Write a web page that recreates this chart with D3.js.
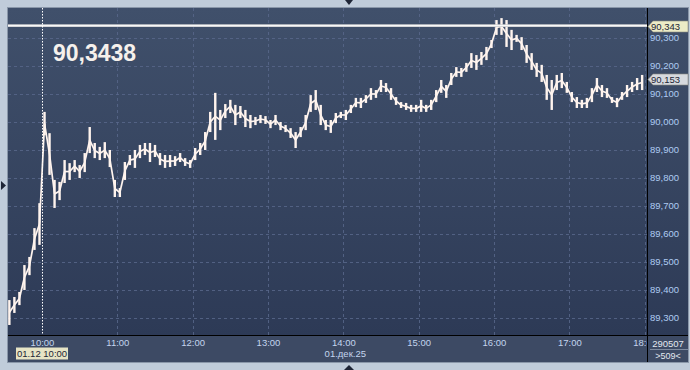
<!DOCTYPE html>
<html>
<head>
<meta charset="utf-8">
<script src="https://cdn.jsdelivr.net/npm/d3@7"></script>
<style>
  body { margin: 0; background: #c0ccda; overflow: hidden; }
  svg { display: block; }
  text { font-family: "Liberation Sans", Arial, sans-serif; }
</style>
</head>
<body>
<script>
// 4-minute bars starting at 09:34
const startTime = new Date(2025, 11, 1, 9, 34)
const barMinutes = 4
const highs = [
  89.363, 89.374, 89.392, 89.488, 89.517, 89.620, 89.709, 90.035, 89.959, 89.792,
  89.785, 89.863, 89.852, 89.863, 89.845, 89.888, 89.981, 89.924, 89.910, 89.927,
  89.899, 89.792, 89.763, 89.856, 89.881, 89.899, 89.917, 89.924, 89.924, 89.917,
  89.888, 89.881, 89.881, 89.877, 89.888, 89.870, 89.863, 89.906, 89.924, 89.963,
  90.035, 90.103, 90.042, 90.063, 90.078, 90.060, 90.056, 90.042, 90.024, 90.017,
  90.024, 90.020, 90.006, 90.024, 89.999, 89.988, 89.977, 89.963, 89.981, 90.024,
  90.095, 90.113, 90.060, 90.006, 90.006, 90.031, 90.035, 90.042, 90.060, 90.085,
  90.085, 90.095, 90.120, 90.113, 90.149, 90.138, 90.120, 90.088, 90.070, 90.067,
  90.060, 90.060, 90.078, 90.060, 90.078, 90.113, 90.149, 90.131, 90.174, 90.195,
  90.192, 90.210, 90.245, 90.238, 90.249, 90.267, 90.292, 90.363, 90.370, 90.363,
  90.328, 90.310, 90.302, 90.274, 90.245, 90.210, 90.203, 90.167, 90.149, 90.167,
  90.174, 90.142, 90.106, 90.088, 90.078, 90.085, 90.120, 90.156, 90.131, 90.120,
  90.088, 90.085, 90.106, 90.131, 90.142, 90.156, 90.167
]
const lows = [
  89.274, 89.317, 89.345, 89.399, 89.452, 89.542, 89.560, 89.952, 89.810, 89.692,
  89.720, 89.781, 89.792, 89.820, 89.799, 89.820, 89.888, 89.870, 89.863, 89.870,
  89.838, 89.731, 89.731, 89.792, 89.845, 89.835, 89.870, 89.881, 89.856, 89.874,
  89.845, 89.835, 89.838, 89.842, 89.856, 89.842, 89.835, 89.863, 89.881, 89.899,
  89.963, 89.935, 89.970, 90.013, 90.031, 89.988, 90.013, 89.981, 89.977, 89.988,
  89.995, 89.992, 89.977, 89.988, 89.970, 89.963, 89.942, 89.906, 89.945, 89.970,
  90.035, 90.042, 89.988, 89.970, 89.960, 89.995, 90.013, 90.006, 90.031, 90.052,
  90.049, 90.067, 90.078, 90.085, 90.106, 90.106, 90.078, 90.060, 90.049, 90.042,
  90.035, 90.035, 90.035, 90.035, 90.042, 90.070, 90.103, 90.085, 90.131, 90.160,
  90.160, 90.178, 90.192, 90.185, 90.203, 90.220, 90.263, 90.310, 90.310, 90.267,
  90.256, 90.285, 90.256, 90.210, 90.185, 90.160, 90.142, 90.078, 90.042, 90.113,
  90.120, 90.103, 90.070, 90.049, 90.049, 90.049, 90.070, 90.106, 90.088, 90.085,
  90.067, 90.052, 90.078, 90.088, 90.106, 90.113, 90.113
]
const priceTicks = [89.3, 89.4, 89.5, 89.6, 89.7, 89.8, 89.9, 90.0, 90.1, 90.2, 90.3]
const timeTicks = ['10:00', '11:00', '12:00', '13:00', '14:00', '15:00', '16:00', '17:00', '18:00']
const levelPrice = 90.343
const lastPrice = 90.153
const cursorValue = '90,3438'
const cursorStamp = '01.12 10:00'
const dateLabel = '01.дек.25'
const counterTop = '290507'
const counterBottom = '>509<'

const W = 690, H = 370
const plot = { left: 8, right: 647, top: 8, bottom: 335 }

const svg = d3.select('body').append('svg').attr('width', W).attr('height', H)

const defs = svg.append('defs')
const grad = defs.append('linearGradient').attr('id', 'bg').attr('x1', 0).attr('y1', 0).attr('x2', 0).attr('y2', 1)
grad.append('stop').attr('offset', '0%').attr('stop-color', '#40506b')
grad.append('stop').attr('offset', '100%').attr('stop-color', '#2d3a56')
defs.append('clipPath').attr('id', 'plotClip')
  .append('rect').attr('x', plot.left).attr('y', plot.top)
  .attr('width', plot.right - plot.left).attr('height', plot.bottom - plot.top)
defs.append('clipPath').attr('id', 'timeClip')
  .append('rect').attr('x', plot.left).attr('y', plot.bottom)
  .attr('width', plot.right - plot.left).attr('height', 30)

// scales
const day = (hm) => { const [h, m] = hm.split(':').map(Number); return new Date(2025, 11, 1, h, m) }
const t10 = day('10:00')
const pxPerHour = 75.33
const msPerPx = 3600000 / pxPerHour
const x = d3.scaleTime()
  .domain([new Date(+t10 - (42 - plot.left) * msPerPx), new Date(+t10 + (plot.right - 42) * msPerPx)])
  .range([plot.left, plot.right])
const y = d3.scaleLinear()
  .domain([89.3 - (plot.bottom - 317.7) / 280, 90.3 + (37.7 - plot.top) / 280])
  .range([plot.bottom, plot.top])

// frame and panels
svg.append('rect').attr('x', 7.5).attr('y', 7.5).attr('width', 681).attr('height', 355)
  .attr('fill', 'none').attr('stroke', '#8a97a9')
svg.append('rect').attr('x', plot.left).attr('y', plot.top)
  .attr('width', plot.right - plot.left).attr('height', plot.bottom - plot.top).attr('fill', 'url(#bg)')
svg.append('rect').attr('x', 648).attr('y', plot.top).attr('width', 40).attr('height', plot.bottom - plot.top)
  .attr('fill', 'url(#bg)')
svg.append('rect').attr('x', 8).attr('y', 336).attr('width', 680).attr('height', 26).attr('fill', '#3d4a64')

// grid
const grid = svg.append('g').attr('clip-path', 'url(#plotClip)')
grid.selectAll('.hgrid').data(priceTicks).enter().append('line')
  .attr('x1', plot.left).attr('x2', plot.right)
  .attr('y1', d => Math.round(y(d)) + 0.5).attr('y2', d => Math.round(y(d)) + 0.5)
  .attr('stroke', '#58678a').attr('stroke-dasharray', '3,3').attr('opacity', 0.85)
grid.selectAll('.vgrid').data(timeTicks.slice(1)).enter().append('line')
  .attr('x1', d => Math.round(x(day(d))) + 0.5).attr('x2', d => Math.round(x(day(d))) + 0.5)
  .attr('y1', plot.top).attr('y2', plot.bottom)
  .attr('stroke', '#58678a').attr('stroke-dasharray', '3,3').attr('opacity', 0.85)

// price bars: each 4-minute bar is a narrow column from low to high,
// joined to its neighbour so the trace reads as one dense jagged line
const bars = highs.map((h, i) => ({ t: d3.timeMinute.offset(startTime, i * barMinutes), hi: h, lo: lows[i] }))
const colW = 2.4
grid.selectAll('.bar').data(bars).enter().append('rect')
  .attr('x', d => x(d.t) - colW / 2).attr('width', colW)
  .attr('y', d => y(d.hi)).attr('height', d => Math.max(1.5, y(d.lo) - y(d.hi)))
  .attr('fill', '#fff4ee')
const mid = d => [x(d.t), y((d.hi + d.lo) / 2)]
grid.selectAll('.link').data(d3.pairs(bars)).enter().append('path')
  .attr('d', ([a, b]) => d3.line()([mid(a), mid(b)]))
  .attr('stroke', '#fff4ee').attr('stroke-width', 1.7).attr('fill', 'none')

// level line
const ly = y(levelPrice)
grid.append('line').attr('x1', plot.left).attr('x2', plot.right).attr('y1', ly).attr('y2', ly)
  .attr('stroke', '#cfcfd2').attr('stroke-width', 2.6)
grid.append('line').attr('x1', plot.left).attr('x2', plot.right).attr('y1', ly).attr('y2', ly)
  .attr('stroke', '#ffffff').attr('stroke-width', 1)

// cursor
const cx = Math.round(x(t10)) + 0.5
svg.append('line').attr('x1', cx).attr('x2', cx).attr('y1', plot.top).attr('y2', plot.bottom)
  .attr('stroke', '#ffffff').attr('stroke-dasharray', '1.5,1.5')
svg.append('text').attr('x', 53).attr('y', 61).attr('fill', '#f6f1ec')
  .attr('font-size', 23).attr('font-weight', 'bold').text(cursorValue)

// dividers
svg.append('line').attr('x1', 8).attr('x2', 688).attr('y1', 335.5).attr('y2', 335.5).attr('stroke', '#000')
svg.append('line').attr('x1', 647.5).attr('x2', 647.5).attr('y1', 8).attr('y2', 362).attr('stroke', '#000')

// price axis
const fmt = d => d3.format('.3f')(d).replace('.', ',')
const yAxis = svg.append('g').attr('transform', 'translate(650,0)')
  .call(d3.axisRight(y).tickValues(priceTicks).tickSize(0).tickPadding(0).tickFormat(fmt))
yAxis.select('.domain').remove()
yAxis.selectAll('text').attr('fill', '#aecbf2').attr('font-size', 9.5)
  .attr('font-family', '"Liberation Sans", Arial, sans-serif')

// price markers
const marker = (price, fill) => {
  const my = Math.round(y(price)) + 0.5
  svg.append('path')
    .attr('d', `M648,${my}L653,${my - 5.5}L688,${my - 5.5}L688,${my + 5.5}L653,${my + 5.5}Z`)
    .attr('fill', fill).attr('stroke', '#8c8c80').attr('stroke-width', 0.6)
  svg.append('text').attr('x', 651).attr('y', my + 3.4).attr('fill', '#1c2535')
    .attr('font-size', 9.5).text(fmt(price))
}
marker(levelPrice, '#ecebc6')
marker(lastPrice, '#d6d9de')

// time axis (the last label is cut by the price panel, as in the original)
const xAxis = svg.append('g').attr('clip-path', 'url(#timeClip)')
  .append('g').attr('transform', 'translate(0,339)')
  .call(d3.axisBottom(x).tickValues(timeTicks.map(day)).tickSize(0).tickPadding(0).tickFormat(d3.timeFormat('%H:%M')))
xAxis.select('.domain').remove()
xAxis.selectAll('text').attr('fill', '#c3d4ee').attr('font-size', 9.5)
  .attr('font-family', '"Liberation Sans", Arial, sans-serif')
svg.append('text').attr('x', x(day('14:00')) + 2).attr('y', 357).attr('text-anchor', 'middle')
  .attr('fill', '#c3d4ee').attr('font-size', 9.5).text(dateLabel)

// cursor time stamp
svg.append('rect').attr('x', 16).attr('y', 347.5).attr('width', 52).attr('height', 12).attr('fill', '#e6e4c5')
svg.append('text').attr('x', 42).attr('y', 357).attr('text-anchor', 'middle')
  .attr('fill', '#1c2535').attr('font-size', 9.5).text(cursorStamp)

// counter box
svg.append('line').attr('x1', 650).attr('x2', 688).attr('y1', 349.5).attr('y2', 349.5).attr('stroke', '#7f8ba0')
svg.append('text').attr('x', 668).attr('y', 346.5).attr('text-anchor', 'middle')
  .attr('fill', '#e2e7ef').attr('font-size', 9.5).text(counterTop)
svg.append('text').attr('x', 668).attr('y', 359).attr('text-anchor', 'middle')
  .attr('fill', '#e2e7ef').attr('font-size', 9).text(counterBottom)

// small navigation arrows on the frame
svg.append('path').attr('d', 'M345,0L353,0L349,5Z').attr('fill', '#1e2536')
svg.append('path').attr('d', 'M344,370L354,370L349,365Z').attr('fill', '#1e2536')
svg.append('path').attr('d', 'M1,181L6,185.5L1,190Z').attr('fill', '#1e2536')
</script>
</body>
</html>
